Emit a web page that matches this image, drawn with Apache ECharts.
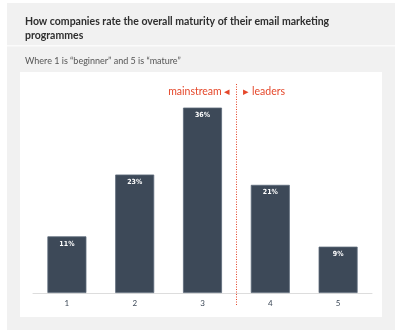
<!DOCTYPE html>
<html><head><meta charset="utf-8">
<script src="https://cdn.jsdelivr.net/npm/echarts@6/dist/echarts.min.js"></script>
<style>html,body{margin:0;padding:0;background:#fff}#c{width:400px;height:330px}</style>
</head><body><div id="c"></div>
<script>
var categories = ['1','2','3','4','5'];
var values = [11, 23, 36, 21, 9];
var title = 'How companies rate the overall maturity of their email marketing\nprogrammes';
var subtitle = 'Where 1 is \u201cbeginner\u201d and 5 is \u201cmature\u201d';
var leftGroup = 'mainstream';
var rightGroup = 'leaders';
var splitAt = 3.5;

var chart = echarts.init(document.getElementById('c'));
var red = '#e5472a';
var bg = [
  {type:'rect', shape:{x:7,y:3,width:388,height:327}, style:{fill:'#f1f1f1'}, z:-10},
  {type:'rect', shape:{x:7,y:45,width:388,height:1.5}, style:{fill:'#fbfbfb'}, z:-9},
  {type:'rect', shape:{x:20,y:72,width:362,height:245}, style:{fill:'#ffffff'}, z:-9}
];
chart.setOption({
  animation: false,
  backgroundColor: '#fff',
  graphic: bg,
  title: [
    {text: title, left: 20, top: 10, textStyle:{fontFamily:'Lato', fontWeight:'bold', fontSize:10.5, color:'#2e2e2e', lineHeight:14}},
    {text: subtitle, left: 20, top: 52, textStyle:{fontFamily:'Lato', fontWeight:'normal', fontSize:9, color:'#555'}}
  ],
  grid: {left: 33, right: 28, top: 87, bottom: 37},
  xAxis: [
    {type:'category', data: categories, axisLine:{lineStyle:{color:'#dddddd', width:1}}, axisTick:{show:false},
     axisLabel:{color:'#3d4958', fontSize:8, fontFamily:'Lato', margin:6}},
    {type:'value', min:0.5, max:5.5, show:false}
  ],
  yAxis: {type:'value', min:0, max:40, show:false},
  series: [
    {type:'bar', data: values, barWidth: 39, xAxisIndex:0,
     itemStyle:{color:'#3d4958', borderColor:'#5d6a7a', borderWidth:0.8},
     label:{show:true, position:'insideTop', offset:[0,-1], formatter:'{c}%', color:'#fff', fontSize:7, fontWeight:'bold', fontFamily:'Liberation Sans Narrow, DejaVu Sans Condensed, sans-serif'}}
  ]
});
var pTop = chart.convertToPixel({xAxisIndex:1, yAxisIndex:0}, [splitAt, 40]);
var pBot = chart.convertToPixel({xAxisIndex:1, yAxisIndex:0}, [splitAt, 0]);
var p = chart.convertToPixel({xAxisIndex:1, yAxisIndex:0}, [splitAt, 39.2]);
var lx = Math.round(pTop[0]) + 0.5;
chart.setOption({graphic: bg.concat([
  {type:'line', z:50, shape:{x1:lx, y1:pTop[1]-3, x2:lx, y2:pBot[1]+13}, style:{stroke:red, lineWidth:1, lineDash:[1,1.5]}},
  {type:'text', z:50, x:p[0]-6, y:p[1], style:{text: leftGroup + ' \u25C2', fill:red, fontSize:10.5, fontFamily:'Lato', align:'right', verticalAlign:'middle'}},
  {type:'text', z:50, x:p[0]+7, y:p[1], style:{text: '\u25B8 ' + rightGroup, fill:red, fontSize:10.5, fontFamily:'Lato', align:'left', verticalAlign:'middle'}}
])});
</script></body></html>
